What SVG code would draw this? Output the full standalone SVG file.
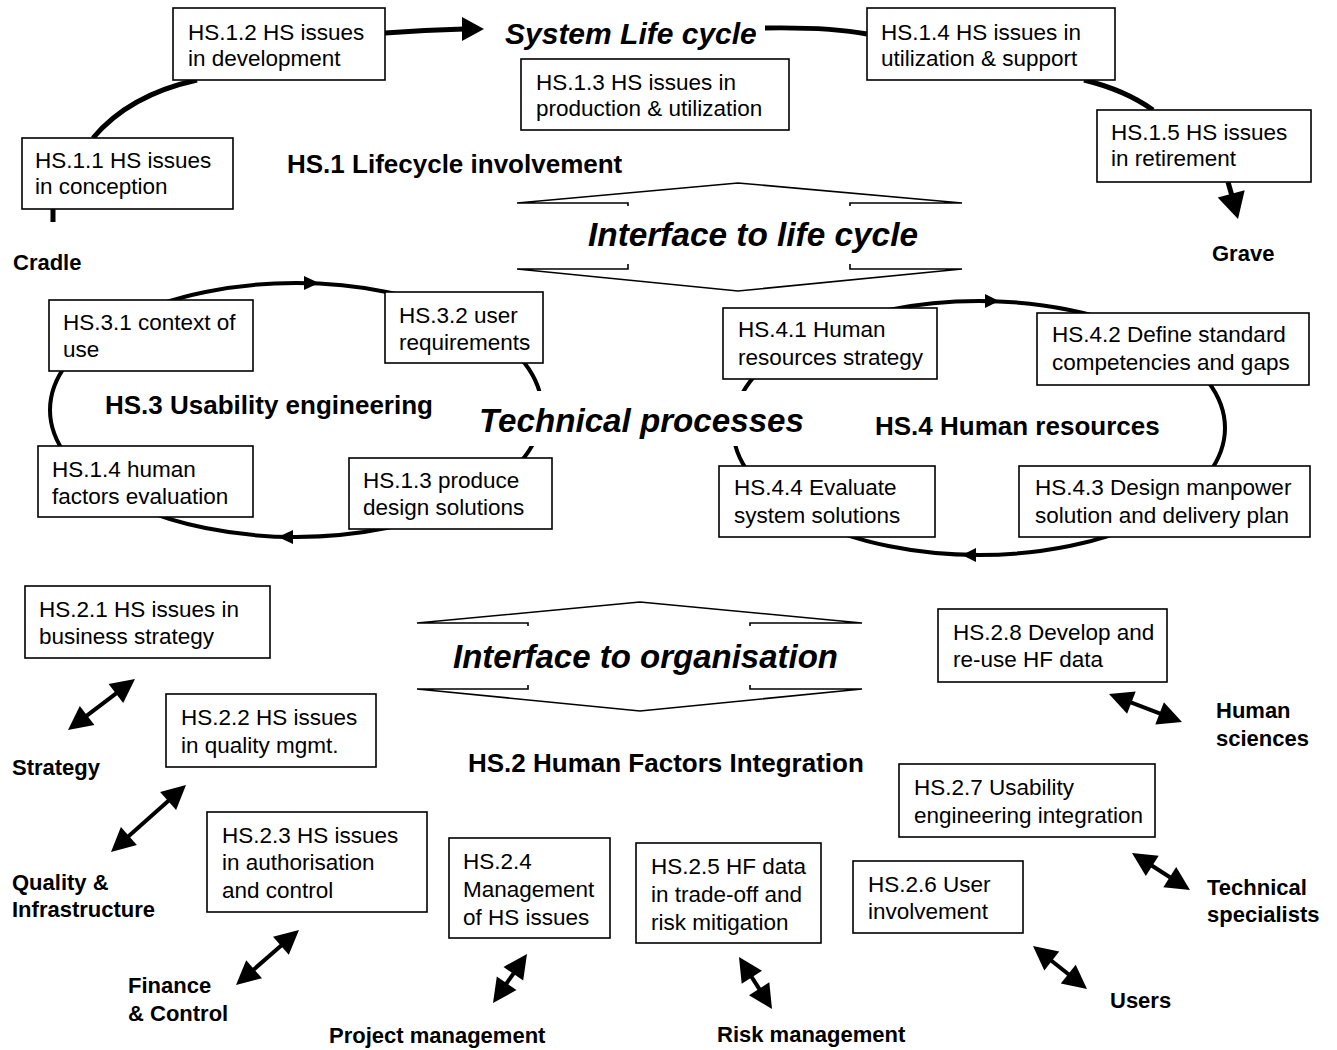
<svg xmlns="http://www.w3.org/2000/svg" width="1337" height="1050" viewBox="0 0 1337 1050">
<style>
  .box { fill:#fff; stroke:#000; stroke-width:1.6; }
  text { font-family:"Liberation Sans", Arial, Helvetica, sans-serif; fill:#000; }
  .t { font-size:22.5px; }
  .b { font-size:22px; font-weight:bold; }
  .B { font-size:26px; font-weight:bold; }
  .bi { font-size:33px; font-weight:bold; font-style:italic; }
  .thick { fill:none; stroke:#000; stroke-width:5; }
  .cyc { fill:none; stroke:#000; stroke-width:4; }
  .if { fill:none; stroke:#000; stroke-width:1.6; stroke-linejoin:miter; }
  .dbl { fill:none; stroke:#000; stroke-width:4; }
  .head { fill:#000; stroke:none; }
</style>
<rect width="1337" height="1050" fill="#fff"/>

<g id="connectors">
  <!-- System life cycle arc -->
  <path class="thick" d="M53,208 L53,222"/>
  <path class="thick" d="M93,138 Q129,95 197,80"/>
  <path class="thick" d="M385,33 Q425,30 464,29"/>
  <polygon class="head" points="484,29 462,17 462,41"/>
  <path class="thick" d="M765,28 Q830,27 867,34"/>
  <path class="thick" d="M1084,80 Q1125,90 1153,110"/>
  <path class="thick" d="M1228,182 L1232,196"/>
  <polygon class="head" points="1238,219 1244.7,190.2 1217.7,197.6"/>

  <!-- Interface to life cycle -->
  <path class="if" d="M628,206 L628,203 L517,203 L738,183 L962,203 L850,203 L850,206"/>
  <path class="if" d="M628,264 L628,269 L517,269 L738,291 L962,269 L850,269 L850,264"/>

  <!-- Usability engineering cycle -->
  <ellipse class="cyc" cx="296" cy="410" rx="246" ry="127"/>
  <polygon class="head" points="319,283 304,276 304,290"/>
  <polygon class="head" points="278,537 293,530 293,544"/>

  <!-- Human resources cycle -->
  <ellipse class="cyc" cx="979" cy="428" rx="246" ry="127"/>
  <polygon class="head" points="999,301 985,294 985,308"/>
  <polygon class="head" points="962,555 976,548 976,562"/>

  <!-- Interface to organisation -->
  <path class="if" d="M528,626 L528,623 L417,623 L640,602 L862,623 L750,623 L750,626"/>
  <path class="if" d="M528,685 L528,689 L417,689 L640,711 L862,689 L750,689 L750,685"/>

  <!-- double arrows -->
  <g id="arrow-strategy">
    <line class="dbl" x1="117.5" y1="692.3" x2="85.5" y2="716.7"/>
    <polygon class="head" points="135,679 108.6,684.0 123.2,703.1"/>
    <polygon class="head" points="68,730 79.8,705.9 94.4,725.0"/>
  </g>
  <g id="arrow-quality">
    <line class="dbl" x1="169.6" y1="799.7" x2="127.4" y2="837.3"/>
    <polygon class="head" points="186,785 160.1,792.0 176.1,809.9"/>
    <polygon class="head" points="111,852 120.9,827.1 136.9,845.0"/>
  </g>
  <g id="arrow-finance">
    <line class="dbl" x1="282.4" y1="944.5" x2="252.6" y2="970.5"/>
    <polygon class="head" points="299,930 273.0,936.7 288.8,954.8"/>
    <polygon class="head" points="236,985 246.2,960.2 262.0,978.3"/>
  </g>
  <g id="arrow-project">
    <line class="dbl" x1="514.5" y1="972.1" x2="505.5" y2="984.9"/>
    <polygon class="head" points="527,954 503.5,966.9 523.2,980.6"/>
    <polygon class="head" points="493,1003 496.8,976.4 516.5,990.1"/>
  </g>
  <g id="arrow-risk">
    <line class="dbl" x1="750.8" y1="975.6" x2="760.2" y2="990.4"/>
    <polygon class="head" points="739,957 741.7,983.7 762.0,970.8"/>
    <polygon class="head" points="772,1009 749.0,995.2 769.3,982.3"/>
  </g>
  <g id="arrow-users">
    <line class="dbl" x1="1050.2" y1="959.7" x2="1069.8" y2="975.3"/>
    <polygon class="head" points="1033,946 1044.3,970.4 1059.2,951.6"/>
    <polygon class="head" points="1087,989 1060.8,983.4 1075.7,964.7"/>
  </g>
  <g id="arrow-technical">
    <line class="dbl" x1="1150.5" y1="864.8" x2="1171.5" y2="878.2"/>
    <polygon class="head" points="1132,853 1145.8,876.0 1158.7,855.8"/>
    <polygon class="head" points="1190,890 1163.3,887.2 1176.2,867.0"/>
  </g>
  <g id="arrow-human">
    <line class="dbl" x1="1129.5" y1="701.9" x2="1161.5" y2="714.1"/>
    <polygon class="head" points="1109,694 1127.1,713.8 1135.7,691.4"/>
    <polygon class="head" points="1182,722 1155.3,724.6 1163.9,702.2"/>
  </g>
</g>

<!-- labels -->
<g id="labels">
  <text class="bi" x="505" y="44" font-size="30" style="font-size:30px">System Life cycle</text>
  <text class="B" x="287" y="173">HS.1 Lifecycle involvement</text>
  <text class="b" x="13" y="270">Cradle</text>
  <text class="b" x="1212" y="261">Grave</text>
  <text class="bi" x="588" y="246" textLength="330" lengthAdjust="spacingAndGlyphs">Interface to life cycle</text>
  <rect x="476" y="391" width="333" height="55" fill="#fff"/>
  <text class="bi" x="479" y="432" textLength="325" lengthAdjust="spacingAndGlyphs">Technical processes</text>
  <text class="B" x="105" y="414">HS.3 Usability engineering</text>
  <text class="B" x="875" y="435">HS.4 Human resources</text>
  <text class="bi" x="453" y="668" textLength="385" lengthAdjust="spacingAndGlyphs">Interface to organisation</text>
  <text class="B" x="468" y="772">HS.2 Human Factors Integration</text>
  <text class="b" x="12" y="775">Strategy</text>
  <text class="b" x="12" y="890">Quality &amp;</text>
  <text class="b" x="12" y="917">Infrastructure</text>
  <text class="b" x="128" y="993">Finance</text>
  <text class="b" x="128" y="1021">&amp; Control</text>
  <text class="b" x="329" y="1043">Project management</text>
  <text class="b" x="717" y="1042">Risk management</text>
  <text class="b" x="1110" y="1008">Users</text>
  <text class="b" x="1207" y="895">Technical</text>
  <text class="b" x="1207" y="922">specialists</text>
  <text class="b" x="1216" y="718">Human</text>
  <text class="b" x="1216" y="746">sciences</text>
</g>

<!-- nodes -->
<g id="hs-1-1"><rect class="box" x="22" y="138" width="211" height="71"/>
  <text class="t" x="35" y="168">HS.1.1 HS issues</text><text class="t" x="35" y="194">in conception</text></g>
<g id="hs-1-2"><rect class="box" x="173" y="8" width="212" height="72"/>
  <text class="t" x="188" y="40">HS.1.2 HS issues</text><text class="t" x="188" y="66">in development</text></g>
<g id="hs-1-3"><rect class="box" x="521" y="59" width="268" height="71"/>
  <text class="t" x="536" y="90">HS.1.3 HS issues in</text><text class="t" x="536" y="116">production &amp; utilization</text></g>
<g id="hs-1-4"><rect class="box" x="867" y="8" width="248" height="72"/>
  <text class="t" x="881" y="40">HS.1.4 HS issues in</text><text class="t" x="881" y="66">utilization &amp; support</text></g>
<g id="hs-1-5"><rect class="box" x="1097" y="110" width="214" height="72"/>
  <text class="t" x="1111" y="140">HS.1.5 HS issues</text><text class="t" x="1111" y="166">in retirement</text></g>

<g id="hs-3-1"><rect class="box" x="49" y="300" width="204" height="71"/>
  <text class="t" x="63" y="330">HS.3.1 context of</text><text class="t" x="63" y="357">use</text></g>
<g id="hs-3-2"><rect class="box" x="385" y="292" width="158" height="71"/>
  <text class="t" x="399" y="323">HS.3.2 user</text><text class="t" x="399" y="350">requirements</text></g>
<g id="hs-3-4"><rect class="box" x="38" y="446" width="215" height="71"/>
  <text class="t" x="52" y="477">HS.1.4 human</text><text class="t" x="52" y="504">factors evaluation</text></g>
<g id="hs-3-3"><rect class="box" x="349" y="458" width="203" height="71"/>
  <text class="t" x="363" y="488">HS.1.3 produce</text><text class="t" x="363" y="515">design solutions</text></g>

<g id="hs-4-1"><rect class="box" x="723" y="308" width="214" height="71"/>
  <text class="t" x="738" y="337">HS.4.1 Human</text><text class="t" x="738" y="365">resources strategy</text></g>
<g id="hs-4-2"><rect class="box" x="1037" y="313" width="272" height="72"/>
  <text class="t" x="1052" y="342">HS.4.2 Define standard</text><text class="t" x="1052" y="370">competencies and gaps</text></g>
<g id="hs-4-4"><rect class="box" x="719" y="466" width="216" height="71"/>
  <text class="t" x="734" y="495">HS.4.4 Evaluate</text><text class="t" x="734" y="523">system solutions</text></g>
<g id="hs-4-3"><rect class="box" x="1019" y="466" width="291" height="71"/>
  <text class="t" x="1035" y="495">HS.4.3 Design manpower</text><text class="t" x="1035" y="523">solution and delivery plan</text></g>

<g id="hs-2-1"><rect class="box" x="25" y="586" width="245" height="72"/>
  <text class="t" x="39" y="617">HS.2.1 HS issues in</text><text class="t" x="39" y="644">business strategy</text></g>
<g id="hs-2-2"><rect class="box" x="166" y="694" width="210" height="73"/>
  <text class="t" x="181" y="725">HS.2.2 HS issues</text><text class="t" x="181" y="753">in quality mgmt.</text></g>
<g id="hs-2-3"><rect class="box" x="207" y="812" width="220" height="100"/>
  <text class="t" x="222" y="843">HS.2.3 HS issues</text><text class="t" x="222" y="870">in authorisation</text><text class="t" x="222" y="898">and control</text></g>
<g id="hs-2-4"><rect class="box" x="449" y="838" width="161" height="100"/>
  <text class="t" x="463" y="869">HS.2.4</text><text class="t" x="463" y="897">Management</text><text class="t" x="463" y="925">of HS issues</text></g>
<g id="hs-2-5"><rect class="box" x="636" y="843" width="185" height="100"/>
  <text class="t" x="651" y="874">HS.2.5 HF data</text><text class="t" x="651" y="902">in trade-off and</text><text class="t" x="651" y="930">risk mitigation</text></g>
<g id="hs-2-6"><rect class="box" x="853" y="861" width="170" height="72"/>
  <text class="t" x="868" y="892">HS.2.6 User</text><text class="t" x="868" y="919">involvement</text></g>
<g id="hs-2-7"><rect class="box" x="899" y="764" width="256" height="73"/>
  <text class="t" x="914" y="795">HS.2.7 Usability</text><text class="t" x="914" y="823">engineering integration</text></g>
<g id="hs-2-8"><rect class="box" x="938" y="609" width="229" height="73"/>
  <text class="t" x="953" y="640">HS.2.8 Develop and</text><text class="t" x="953" y="667">re-use HF data</text></g>
</svg>
